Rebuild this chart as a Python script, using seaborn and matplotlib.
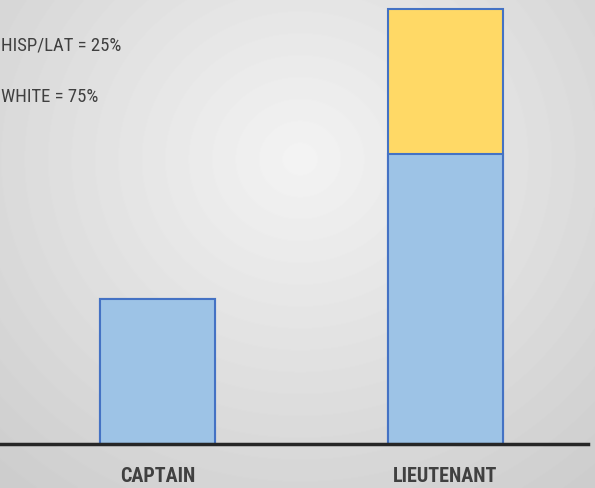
import numpy as np
import pandas as pd
import seaborn as sns
import matplotlib.pyplot as plt
from matplotlib import font_manager

ranks = ["CAPTAIN", "LIEUTENANT"]
white = [1, 2]
hisp_lat = [0, 1]
notes = ["HISP/LAT = 25%", "WHITE = 75%"]

df = pd.DataFrame({"rank": ranks, "white": white, "hisp": hisp_lat})
df["total"] = df["white"] + df["hisp"]

sns.set_style("white")
installed = {f.name for f in font_manager.fontManager.ttflist}
family = "DejaVu Sans"
for cand in ["Liberation Sans Narrow", "Roboto Condensed", "Open Sans Condensed"]:
    if cand in installed:
        family = cand
        break
plt.rcParams["font.family"] = [family, "DejaVu Sans"]
plt.rcParams["font.stretch"] = "condensed"

fig = plt.figure(figsize=(5.95, 4.89), dpi=100)

# radial grey background
bg = fig.add_axes([0, 0, 1, 1], zorder=0)
yy, xx = np.mgrid[0:489, 0:595]
r = np.sqrt(((xx - 300) / 450) ** 2 + ((yy - 160) / 420) ** 2)
bg.imshow(0.955 - 0.15 * r, cmap="gray", vmin=0, vmax=1, aspect="auto")
bg.axis("off")

ax = fig.add_axes([0, 44 / 489, 588 / 595, 445 / 489], zorder=1)
ax.patch.set_alpha(0)

sns.barplot(data=df, x="rank", y="total", color="#FFD966", saturation=1,
            width=0.4, edgecolor="#4472C4", linewidth=1.5, ax=ax)
sns.barplot(data=df, x="rank", y="white", color="#9DC3E6", saturation=1,
            width=0.4, edgecolor="#4472C4", linewidth=1.5, ax=ax)

ax.set_xlim(-157.5 / 287.5, 1 + 143 / 287.5)
ax.set_ylim(0, 3 * 445 / 435)
for s in ["top", "right", "left"]:
    ax.spines[s].set_visible(False)
ax.spines["bottom"].set_color("#262626")
ax.spines["bottom"].set_linewidth(2.5)
ax.set_yticks([])
ax.set_xlabel("")
ax.set_ylabel("")
ax.tick_params(axis="x", length=0, pad=16)
ax.set_xticks(range(len(ranks)))
ax.set_xticklabels(ranks, fontsize=14.5, fontweight="bold", color="#404040")

fig.text(1 / 595, 1 - 45 / 489, notes[0], fontsize=13.5, color="#404040", va="center")
fig.text(1 / 595, 1 - 97 / 489, notes[1], fontsize=13.5, color="#404040", va="center")

fig.savefig("out.png", dpi=100)
